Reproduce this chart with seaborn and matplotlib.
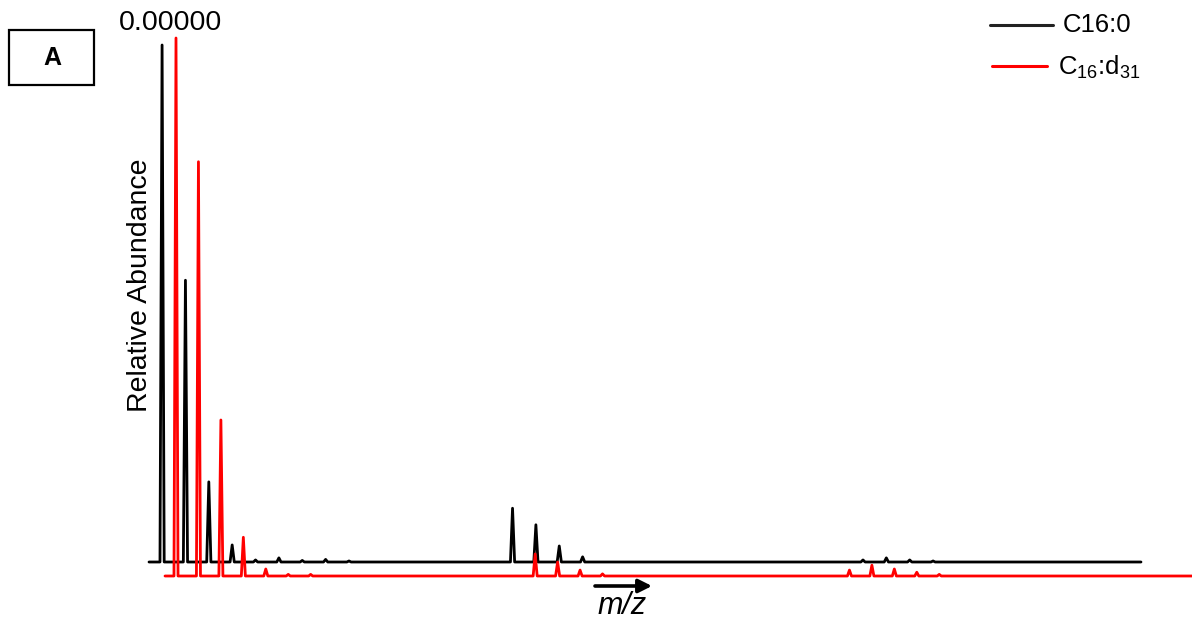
import numpy as np
import pandas as pd
import matplotlib
matplotlib.use("Agg")
import matplotlib.pyplot as plt
import seaborn as sns

# ---- data ----
black_mz = [256, 257, 258, 259, 260, 261, 262, 263, 264,
            271, 272, 273, 274,
            286, 287, 288, 289]
black_int = [1.000, 0.545, 0.155, 0.033, 0.004, 0.008, 0.003, 0.005, 0.002,
             0.104, 0.072, 0.031, 0.010,
             0.004, 0.008, 0.004, 0.002]
red_mz = [287, 288, 289, 290, 291, 292, 293,
          303, 304, 305, 306,
          317, 318, 319, 320, 321]
red_int = [1.000, 0.770, 0.290, 0.072, 0.013, 0.003, 0.003,
           0.041, 0.026, 0.011, 0.004,
           0.011, 0.020, 0.013, 0.007, 0.003]
series_labels = ["C16:0", r"C$_{16}$:d$_{31}$"]

black_range = (255.44, 297.9)
red_range = (286.51, 332.26)


def stick_frame(mz, inten, lo, hi, half=0.09):
    xs, ys = [lo], [0.0]
    for m, h in zip(mz, inten):
        xs += [m - half, m, m + half]
        ys += [0.0, h, 0.0]
    xs.append(hi)
    ys.append(0.0)
    return pd.DataFrame({"mz": xs, "abundance": ys})


sns.set_style("white")
plt.rcParams["font.family"] = ["Liberation Sans", "DejaVu Sans"]
plt.rcParams["mathtext.default"] = "regular"
plt.rcParams["text.color"] = "black"

W, H = 1192, 619
fig = plt.figure(figsize=(W / 100, H / 100), dpi=100)


def px_axes(left, right, top, bottom):
    return fig.add_axes([left / W, (H - bottom) / H, (right - left) / W, (bottom - top) / H])


# black spectrum
ax_b = px_axes(149, 1141, 45, 562)
df_b = stick_frame(black_mz, black_int, *black_range)
sns.lineplot(data=df_b, x="mz", y="abundance", ax=ax_b, sort=False, estimator=None,
             color="black", linewidth=2.0)
ax_b.set_xlim(*black_range)
ax_b.set_ylim(0, 1)

# red (offset) spectrum, drawn on top
ax_r = px_axes(176 - 0.49 * 22.45, 1192, 38, 576)
df_r = stick_frame(red_mz, red_int, *red_range)
sns.lineplot(data=df_r, x="mz", y="abundance", ax=ax_r, sort=False, estimator=None,
             color="#ff0000", linewidth=2.0)
ax_r.set_xlim(*red_range)
ax_r.set_ylim(0, 1)

for ax in (ax_b, ax_r):
    for l in ax.lines:
        l.set_clip_on(False)
    ax.set_axis_off()
    ax.patch.set_alpha(0)

# texts
fig.text(171 / W, 1 - 23 / H, "0.00000", ha="center", va="center", fontsize=20.5)
fig.text(140 / W, 1 - 285 / H, "Relative Abundance", rotation=90,
         ha="center", va="center", fontsize=20.5)
fig.text(622 / W, 1 - 606 / H, "m/z", ha="center", va="center",
         fontsize=22, style="italic")
fig.add_artist(matplotlib.patches.FancyArrowPatch(
    (595 / W, 1 - 586 / H), (652 / W, 1 - 586 / H), transform=fig.transFigure,
    arrowstyle="-|>", mutation_scale=20, color="black", linewidth=2.6,
    shrinkA=0, shrinkB=0))

# panel label
fig.add_artist(matplotlib.patches.Rectangle(
    (9 / W, 1 - 85 / H), 85 / W, 55 / H, transform=fig.transFigure,
    fill=False, edgecolor="black", linewidth=1.6))
fig.text(52 / W, 1 - 58 / H, "A", ha="center", va="center", fontsize=18,
         fontweight="bold")

# legend
fig.add_artist(matplotlib.lines.Line2D([990 / W, 1053 / W], [1 - 25 / H, 1 - 25 / H],
                                       color="#222222", linewidth=2.2))
fig.text(1063 / W, 1 - 25 / H, series_labels[0], ha="left", va="center", fontsize=18.5)
fig.add_artist(matplotlib.lines.Line2D([992 / W, 1047 / W], [1 - 66 / H, 1 - 66 / H],
                                       color="#ff0000", linewidth=2.2))
fig.text(1058 / W, 1 - 67 / H, series_labels[1], ha="left", va="center", fontsize=18.5)

fig.savefig("out.png", dpi=100)
